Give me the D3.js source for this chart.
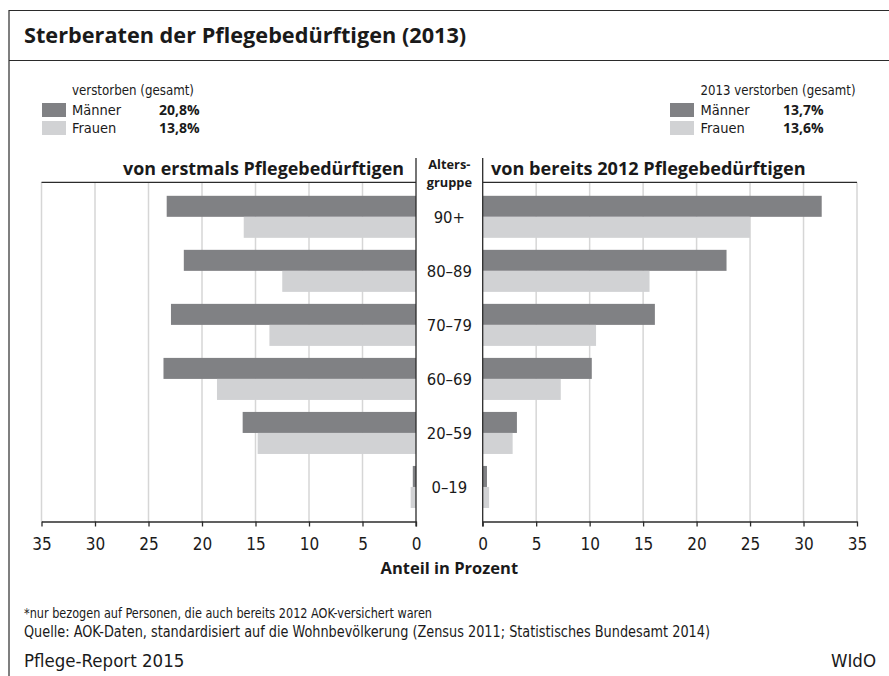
<!DOCTYPE html>
<html>
<head>
<meta charset="utf-8">
<script src="https://cdn.jsdelivr.net/npm/d3@7"></script>
<style>
  body { margin: 0; background: #fff; }
  svg { display: block; }
  .cond { font-family: "Liberation Sans Narrow", "DejaVu Sans Condensed", sans-serif; fill: #1a1a1a; }
  .head { font-family: "Open Sans", "Noto Sans", sans-serif; font-weight: 700; fill: #1a1a1a; }
</style>
</head>
<body>
<svg id="chart" width="889" height="676"></svg>
<script>
"use strict";
// age groups, top to bottom
const ageGroups = ["90+", "80–89", "70–79", "60–69", "20–59", "0–19"];
// left panel: von erstmals Pflegebedürftigen (%)
const firstMen   = [23.3, 21.7, 22.9, 23.6, 16.2, 0.3];
const firstWomen = [16.1, 12.5, 13.7, 18.6, 14.8, 0.5];
// right panel: von bereits 2012 Pflegebedürftigen (%)
const priorMen   = [31.7, 22.8, 16.1, 10.2, 3.2, 0.4];
const priorWomen = [25.0, 15.6, 10.6, 7.3, 2.8, 0.6];
const tickValues = [0, 5, 10, 15, 20, 25, 30, 35];
const legendLeft  = { title: "verstorben (gesamt)", men: "20,8%", women: "13,8%" };
const legendRight = { title: "2013 verstorben (gesamt)", men: "13,7%", women: "13,6%" };

const colMen = "#808184", colWomen = "#d1d2d4", colGrid = "#d6d6d6", colLine = "#2b2b2b";

const svg = d3.select("#chart");

// squeeze a condensed text to the width it has in the print layout
function fit(sel, w) {
    sel.attr("textLength", w).attr("lengthAdjust", "spacingAndGlyphs");
    return sel;
}

// frame
svg.append("path")
    .attr("d", "M9,676 V10.5 H889 M9,60.5 H889")
    .attr("fill", "none").attr("stroke", colLine).attr("stroke-width", 1.2);

svg.append("text").attr("class", "head")
    .attr("x", 24).attr("y", 43).attr("font-size", 21.7)
    .text("Sterberaten der Pflegebedürftigen (2013)");

// scales
const plotTop = 182.3, plotBottom = 521.5;
const xL = d3.scaleLinear().domain([0, 35]).range([416, 41.5]);
const xR = d3.scaleLinear().domain([0, 35]).range([482.7, 857]);
const y = d3.scaleBand().domain(ageGroups).range([plotTop, plotBottom])
    .paddingInner(0.222).paddingOuter(0.25);

// gridlines
function grid(x) {
    svg.append("g").selectAll("line")
        .data(tickValues.slice(1))
        .enter().append("line")
        .attr("x1", d => x(d)).attr("x2", d => x(d))
        .attr("y1", plotTop).attr("y2", plotBottom)
        .attr("stroke", colGrid).attr("stroke-width", 1.5);
}
grid(xL);
grid(xR);

// bars
function bars(x, men, women) {
    const g = svg.append("g");
    const bh = y.bandwidth() / 2;
    g.selectAll(".men").data(ageGroups).enter().append("rect")
        .attr("x", (d, i) => Math.min(x(0), x(men[i])))
        .attr("width", (d, i) => Math.abs(x(men[i]) - x(0)))
        .attr("y", d => y(d)).attr("height", bh)
        .attr("fill", colMen);
    g.selectAll(".women").data(ageGroups).enter().append("rect")
        .attr("x", (d, i) => Math.min(x(0), x(women[i])))
        .attr("width", (d, i) => Math.abs(x(women[i]) - x(0)))
        .attr("y", d => y(d) + bh).attr("height", bh)
        .attr("fill", colWomen);
}
bars(xL, firstMen, firstWomen);
bars(xR, priorMen, priorWomen);

// axes
function axis(x) {
    const g = svg.append("g")
        .attr("transform", "translate(0," + plotBottom + ")")
        .call(d3.axisBottom(x).tickValues(tickValues).tickSizeInner(5).tickSizeOuter(0).tickPadding(11));
    g.select(".domain").attr("stroke", colLine).attr("stroke-width", 1.3);
    g.selectAll(".tick line").attr("stroke", colLine).attr("stroke-width", 1.3);
    g.selectAll(".tick text").attr("class", "cond").attr("font-size", 17).attr("fill", "#1a1a1a");
}
axis(xL);
axis(xR);

// horizontal lines under the headings and the vertical dividers
svg.append("path")
    .attr("d", `M${xL(35)},${plotTop} H${xL(0)} M${xR(0)},${plotTop} H${xR(35)} M${xL(0)},158 V${plotBottom + 5} M${xR(0)},158 V${plotBottom + 5}`)
    .attr("fill", "none").attr("stroke", colLine).attr("stroke-width", 1.3);

// panel headings
svg.append("text").attr("class", "head").attr("font-size", 17.9)
    .attr("x", 404).attr("y", 175).attr("text-anchor", "end")
    .text("von erstmals Pflegebedürftigen");
svg.append("text").attr("class", "head").attr("font-size", 18.1)
    .attr("x", 491).attr("y", 175)
    .text("von bereits 2012 Pflegebedürftigen");

const cx = (xL(0) + xR(0)) / 2;
const ag = svg.append("text").attr("class", "head").attr("font-size", 12.8)
    .attr("text-anchor", "middle");
ag.append("tspan").attr("x", cx).attr("y", 169).text("Alters-");
ag.append("tspan").attr("x", cx).attr("y", 186.5).text("gruppe");

// age labels
svg.append("g").selectAll("text").data(ageGroups).enter().append("text")
    .attr("class", "cond").attr("font-size", 16.5)
    .attr("x", cx).attr("y", d => y(d) + y.bandwidth() / 2 + 6)
    .attr("text-anchor", "middle").text(d => d);

// axis title
svg.append("text").attr("class", "head").attr("font-size", 16.5)
    .attr("x", cx).attr("y", 574).attr("text-anchor", "middle")
    .text("Anteil in Prozent");

// legends
function legend(lx, tx, vx, tw, spec) {
    const g = svg.append("g");
    fit(g.append("text").attr("class", "cond").attr("font-size", 14.5)
        .attr("x", tx).attr("y", 95).text(spec.title), tw);
    g.append("rect").attr("x", lx).attr("y", 103).attr("width", 24).attr("height", 14).attr("fill", colMen);
    g.append("rect").attr("x", lx).attr("y", 121).attr("width", 24).attr("height", 14).attr("fill", colWomen);
    g.append("text").attr("class", "cond").attr("font-size", 14.5).attr("x", tx).attr("y", 115).text("Männer");
    g.append("text").attr("class", "cond").attr("font-size", 14.5).attr("x", tx).attr("y", 133).text("Frauen");
    g.append("text").attr("class", "head").attr("font-size", 14).attr("x", vx).attr("y", 115).text(spec.men);
    g.append("text").attr("class", "head").attr("font-size", 14).attr("x", vx).attr("y", 133).text(spec.women);
}
legend(42, 72, 159, 122, legendLeft);
legend(670, 700.5, 783, 155, legendRight);

// footer
fit(svg.append("text").attr("class", "cond").attr("font-size", 13.5)
    .attr("x", 24).attr("y", 618)
    .text("*nur bezogen auf Personen, die auch bereits 2012 AOK-versichert waren"), 408);
fit(svg.append("text").attr("class", "cond").attr("font-size", 15.5)
    .attr("x", 24).attr("y", 637)
    .text("Quelle: AOK-Daten, standardisiert auf die Wohnbevölkerung (Zensus 2011; Statistisches Bundesamt 2014)"), 686);
svg.append("text").attr("class", "cond").attr("font-size", 18.5)
    .attr("x", 24).attr("y", 667).text("Pflege-Report 2015");
svg.append("text").attr("class", "cond").attr("font-size", 18.5)
    .attr("x", 876).attr("y", 667).attr("text-anchor", "end").text("WIdO");
</script>
</body>
</html>
